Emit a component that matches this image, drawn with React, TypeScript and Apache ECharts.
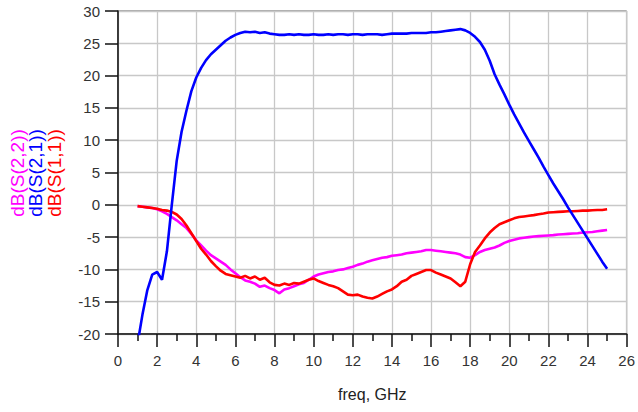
import React, { useEffect, useRef } from "react";
import * as echarts from "echarts";

const freq = [
  1, 1.25, 1.5, 1.75,
  2, 2.25, 2.5, 2.75,
  3, 3.25, 3.5, 3.75,
  4, 4.25, 4.5, 4.75,
  5, 5.25, 5.5, 5.75,
  6, 6.25, 6.5, 6.75,
  7, 7.25, 7.5, 7.75,
  8, 8.25, 8.5, 8.75,
  9, 9.25, 9.5, 9.75,
  10, 10.25, 10.5, 10.75,
  11, 11.25, 11.5, 11.75,
  12, 12.25, 12.5, 12.75,
  13, 13.25, 13.5, 13.75,
  14, 14.25, 14.5, 14.75,
  15, 15.25, 15.5, 15.75,
  16, 16.25, 16.5, 16.75,
  17, 17.25, 17.5, 17.75,
  18, 18.25, 18.5, 18.75,
  19, 19.25, 19.5, 19.75,
  20, 20.25, 20.5, 20.75,
  21, 21.25, 21.5, 21.75,
  22, 22.25, 22.5, 22.75,
  23, 23.25, 23.5, 23.75,
  24, 24.25, 24.5, 24.75,
  25,
];

const s21 = [
  -21.5, -17.0, -13.2, -10.8,
  -10.4, -11.6, -7.2, 0.0,
  6.8, 11.3, 14.6, 17.6,
  19.7, 21.2, 22.4, 23.3,
  24.0, 24.7, 25.4, 25.9,
  26.3, 26.6, 26.8, 26.7,
  26.8, 26.6, 26.7, 26.5,
  26.4, 26.3, 26.3, 26.4,
  26.3, 26.4, 26.3, 26.3,
  26.4, 26.3, 26.3, 26.4,
  26.3, 26.4, 26.4, 26.3,
  26.4, 26.4, 26.3, 26.4,
  26.4, 26.4, 26.3, 26.4,
  26.5, 26.5, 26.5, 26.5,
  26.6, 26.6, 26.6, 26.6,
  26.7, 26.7, 26.8, 26.9,
  27.0, 27.1, 27.2, 27.0,
  26.6, 26.0, 25.2, 24.0,
  22.3, 20.2, 18.6, 17.1,
  15.5, 14.0, 12.6, 11.2,
  9.9, 8.6, 7.3, 5.9,
  4.6, 3.3, 2.1, 0.9,
  -0.4, -1.6, -2.8, -4.0,
  -5.2, -6.4, -7.6, -8.8,
  -9.9,
];

const s11 = [
  -0.2, -0.3, -0.4, -0.5,
  -0.6, -0.8, -0.9, -1.1,
  -1.5, -2.2, -3.2, -4.4,
  -5.6, -6.8, -7.7, -8.7,
  -9.5, -10.2, -10.7, -10.9,
  -11.1, -11.3, -11.0, -11.4,
  -11.1, -11.6, -11.3, -12.0,
  -12.4, -12.5, -12.2, -12.4,
  -12.1, -12.2, -11.9, -11.6,
  -11.4, -11.8, -12.1, -12.4,
  -12.6, -12.9, -13.4, -13.9,
  -14.0, -13.9, -14.2, -14.4,
  -14.5, -14.2, -13.8, -13.4,
  -13.1, -12.6, -11.9, -11.6,
  -11.0, -10.7, -10.4, -10.1,
  -10.1, -10.5, -10.8, -11.1,
  -11.4, -12.0, -12.6, -11.9,
  -9.2, -7.3, -6.3, -5.2,
  -4.3, -3.6, -3.0, -2.7,
  -2.4, -2.1, -1.9, -1.8,
  -1.7, -1.6, -1.45, -1.35,
  -1.2, -1.15, -1.1, -1.05,
  -1.0, -1.0, -0.95, -0.9,
  -0.9, -0.85, -0.8, -0.8,
  -0.7,
];

const s22 = [
  -0.2, -0.3, -0.4, -0.5,
  -0.7, -1.0, -1.4, -1.9,
  -2.4, -3.0, -3.6, -4.5,
  -5.5, -6.3, -7.1, -7.8,
  -8.3, -8.8, -9.3, -10.0,
  -10.6, -11.2, -11.7, -11.9,
  -12.2, -12.7, -12.5, -12.9,
  -13.2, -13.7, -13.1, -12.9,
  -12.6, -12.3, -12.1, -11.6,
  -11.1, -10.8, -10.6, -10.4,
  -10.3, -10.1, -10.0, -9.8,
  -9.6, -9.3, -9.1, -8.8,
  -8.6, -8.4, -8.2, -8.1,
  -7.9, -7.8, -7.7, -7.5,
  -7.4, -7.3, -7.2, -7.0,
  -7.0, -7.1, -7.2, -7.3,
  -7.4, -7.5, -7.7, -8.1,
  -8.2, -7.8, -7.3, -7.0,
  -6.8, -6.6, -6.3, -5.9,
  -5.6, -5.4, -5.2, -5.1,
  -5.0, -4.9, -4.85, -4.8,
  -4.75, -4.7, -4.6, -4.55,
  -4.5, -4.45, -4.4, -4.3,
  -4.25, -4.2, -4.1, -4.0,
  -3.9,
];

const seriesNames = ["dB(S(2,2))", "dB(S(1,1))", "dB(S(2,1))"];
const xTitle = "freq, GHz";

const FONT = "'Liberation Sans', Arial, sans-serif";

export default function App() {
  const ref = useRef<HTMLDivElement>(null);
  useEffect(() => {
    if (!ref.current) return;
    const chart = echarts.init(ref.current, null, { renderer: "svg" });
    const mk = (arr: number[]) => freq.map((f, i) => [f, arr[i]]);
    chart.setOption({
      animation: false,
      backgroundColor: "#ffffff",
      textStyle: { fontFamily: FONT },
      grid: {
        left: 118,
        right: 8,
        top: 11,
        bottom: 78,
        containLabel: false,
        show: true,
        borderColor: "#555",
        borderWidth: 1,
        backgroundColor: "transparent",
      },
      xAxis: {
        type: "value",
        min: 0,
        max: 26,
        interval: 2,
        name: xTitle,
        nameLocation: "middle",
        nameGap: 52,
        nameTextStyle: { fontSize: 16, color: "#222", fontFamily: FONT },
        axisLine: { show: true, onZero: false, lineStyle: { color: "#111", width: 1.5 } },
        axisTick: { show: true, length: 13, lineStyle: { color: "#111", width: 1.5 } },
        minorTick: { show: true, splitNumber: 2, length: 7, lineStyle: { color: "#111", width: 1.5 } },
        axisLabel: { fontSize: 15, color: "#333", margin: 19, fontFamily: FONT },
        splitLine: { show: true, lineStyle: { color: "#c8c8c8", width: 1.3 } },
      },
      yAxis: {
        type: "value",
        min: -20,
        max: 30,
        interval: 5,
        axisLine: { show: true, onZero: false, lineStyle: { color: "#111", width: 1.5 } },
        axisTick: { show: true, length: 13, lineStyle: { color: "#111", width: 1.5 } },
        axisLabel: { fontSize: 15, color: "#333", margin: 18, fontFamily: FONT },
        splitLine: { show: true, lineStyle: { color: "#c8c8c8", width: 1.3 } },
      },
      graphic: [
        {
          type: "text",
          x: 17,
          y: 173,
          rotation: Math.PI / 2,
          style: { text: seriesNames[0], fill: "#ff00ff", fontSize: 19, fontFamily: FONT, align: "center", verticalAlign: "middle" },
        },
        {
          type: "text",
          x: 35,
          y: 173,
          rotation: Math.PI / 2,
          style: { text: seriesNames[2], fill: "#0000ff", fontSize: 19, fontFamily: FONT, align: "center", verticalAlign: "middle" },
        },
        {
          type: "text",
          x: 54,
          y: 173,
          rotation: Math.PI / 2,
          style: { text: seriesNames[1], fill: "#ff0000", fontSize: 19, fontFamily: FONT, align: "center", verticalAlign: "middle" },
        },
      ],
      series: [
        {
          name: seriesNames[0],
          type: "line",
          data: mk(s22),
          showSymbol: false,
          symbol: "none",
          lineStyle: { color: "#ff00ff", width: 2.6 },
          itemStyle: { color: "#ff00ff" },
        },
        {
          name: seriesNames[1],
          type: "line",
          data: mk(s11),
          showSymbol: false,
          symbol: "none",
          lineStyle: { color: "#ff0000", width: 2.6 },
          itemStyle: { color: "#ff0000" },
        },
        {
          name: seriesNames[2],
          type: "line",
          data: mk(s21),
          showSymbol: false,
          symbol: "none",
          lineStyle: { color: "#0000ff", width: 2.6 },
          itemStyle: { color: "#0000ff" },
        },
      ],
    });
    return () => chart.dispose();
  }, []);
  return (
    <div
      ref={ref}
      style={{ position: "absolute", left: 0, top: 0, width: 638, height: 412, background: "#fff" }}
    />
  );
}
